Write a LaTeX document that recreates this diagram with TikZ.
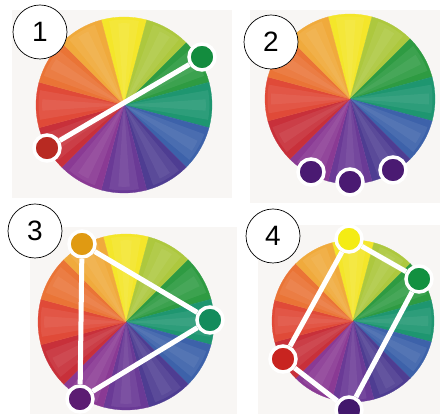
\documentclass[tikz,border=0pt]{standalone}
\usepackage{fontspec}
\setmainfont{Liberation Sans}
\definecolor{panelgrey}{HTML}{F8F6F4}
\definecolor{cY}{HTML}{F4E62A}
\definecolor{cYG}{HTML}{ADC83E}
\definecolor{cG}{HTML}{2E9B42}
\definecolor{cBG}{HTML}{1E9670}
\definecolor{cB}{HTML}{3D62AA}
\definecolor{cBV}{HTML}{4E3D92}
\definecolor{cV}{HTML}{6A3A96}
\definecolor{cRV}{HTML}{8A3A94}
\definecolor{cR}{HTML}{C8303A}
\definecolor{cRO}{HTML}{E04A38}
\definecolor{cO}{HTML}{EA7436}
\definecolor{cYO}{HTML}{F0AA3C}
\definecolor{dGreen}{HTML}{138C3E}
\definecolor{dRed}{HTML}{B82A22}
\definecolor{dPurple}{HTML}{4A1A72}
\definecolor{dOrange}{HTML}{E09A12}
\definecolor{dTeal}{HTML}{128C5C}
\definecolor{dPurple3}{HTML}{5C1C72}
\definecolor{dYellow}{HTML}{F4EC14}
\definecolor{dGreen4}{HTML}{129040}
\definecolor{dRed4}{HTML}{C82420}
\definecolor{dPurple4}{HTML}{42186C}
\tikzset{
  panel/.style={fill=panelgrey},
  lbl/.style={circle, draw=black, line width=0.7pt, fill=white, minimum size=54pt, inner sep=0pt, font=\fontsize{28}{28}\selectfont},
  dot/.style={circle, fill=#1, draw=white, line width=3.5pt, minimum size=26pt, inner sep=0pt},
  conn/.style={draw=white, line width=5pt},
}
\newcommand\mywheel[2]{%
  \foreach \a/\c in {90/cY,60/cYG,30/cG,0/cBG,-30/cB,-60/cBV,-90/cV,-120/cRV,-150/cR,180/cRO,150/cO,120/cYO}{%
    \filldraw[fill=\c, draw=\c, line width=0.3pt] (#1) -- ++(\a-15:#2) arc[start angle=\a-15, end angle=\a+15, radius=#2] -- cycle;
    \fill[white, opacity=0.07] (#1) -- ++(\a-10:#2*0.97) arc[start angle=\a-10, end angle=\a+10, radius=#2*0.97] -- cycle;
    \fill[white, opacity=0.06] (#1) -- ++(\a-4:#2*0.93) arc[start angle=\a-4, end angle=\a+4, radius=#2*0.93] -- cycle;
  }%
}
\begin{document}
\begin{tikzpicture}[x=1pt,y=1pt]
  \clip (0,0) rectangle (442,414);
  \fill[white] (0,0) rectangle (442,414);
  % panels
  \fill[panel] (12,216) rectangle (232,404);
  \fill[panel] (250,211) rectangle (440,404);
  \fill[panel] (30,0) rectangle (237,187);
  \fill[panel] (258,0) rectangle (440,189);
  % wheel centres
  \coordinate (w1) at (124,309);
  \coordinate (w2) at (350,315);
  \coordinate (w3) at (126,92);
  \coordinate (w4) at (353,93);
  \mywheel{w1}{88}
  \mywheel{w2}{85}
  \mywheel{w3}{88}
  \mywheel{w4}{81}
  % wheel 1
  \node[dot=dGreen] (g1) at (202,357) {};
  \node[dot=dRed] (r1) at (47,266) {};
  \draw[conn] (r1) -- (g1);
  % wheel 2
  \node[dot=dPurple] (p2a) at (311,242) {};
  \node[dot=dPurple] (p2b) at (350,232) {};
  \node[dot=dPurple] (p2c) at (393,244) {};
  % wheel 3
  \node[dot=dOrange] (o3) at (82,170) {};
  \node[dot=dTeal] (g3) at (210,94) {};
  \node[dot=dPurple3] (p3) at (80,15) {};
  \draw[conn] (o3) -- (g3);
  \draw[conn] (g3) -- (p3);
  \draw[conn] (p3) -- (o3);
  % wheel 4
  \node[dot=dYellow] (y4) at (349,175) {};
  \node[dot=dGreen4] (g4) at (419,135) {};
  \node[dot=dRed4] (r4) at (283,55) {};
  \node[dot=dPurple4] (p4) at (349,4) {};
  \draw[conn] (y4) -- (g4);
  \draw[conn] (g4) -- (p4);
  \draw[conn] (p4) -- (r4);
  \draw[conn] (r4) -- (y4);
  % labels
  \node[lbl] (l1) at (40,382) {1};
  \node[lbl] (l2) at (271,372) {2};
  \node[lbl] (l3) at (35,183) {3};
  \node[lbl] (l4) at (273,178) {4};
\end{tikzpicture}
\end{document}
